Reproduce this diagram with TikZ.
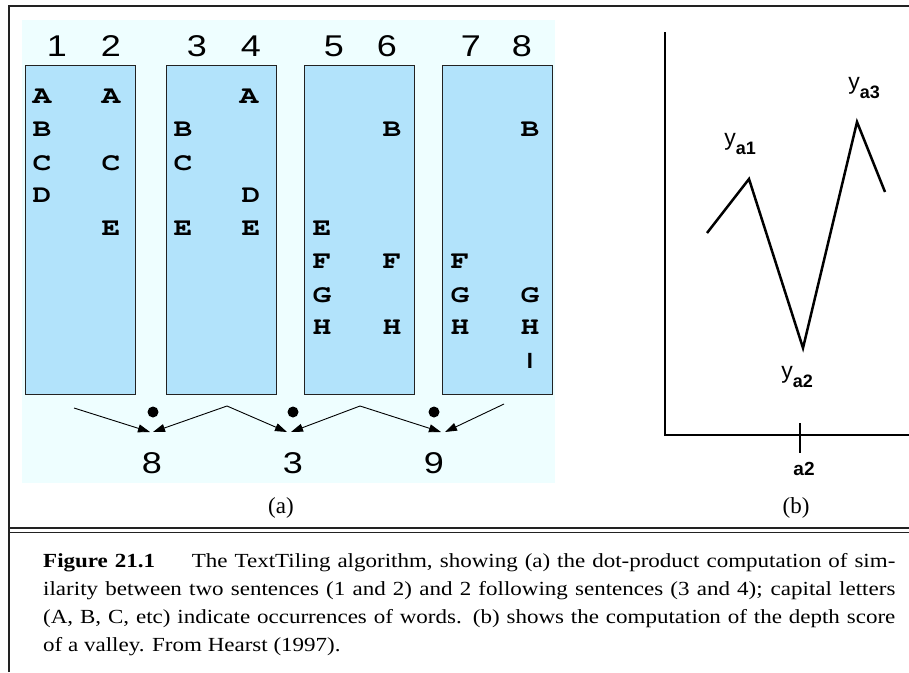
\documentclass[tikz,border=0pt]{standalone}
\usepackage[T1]{fontenc}
\usepackage{fontspec}
\usepackage{graphicx}
\setmainfont{Liberation Serif}
\newfontfamily\sansfnt{Liberation Sans}
\usetikzlibrary{arrows.meta}
\usetikzlibrary{positioning}
\definecolor{panelbg}{RGB}{238,254,255}
\definecolor{boxfill}{RGB}{178,227,251}
\definecolor{framecol}{RGB}{34,34,34}
\newcommand{\wrd}[1]{\scalebox{1.25}[1]{\fontencoding{T1}\fontfamily{pcr}\fontseries{b}\fontsize{25}{25}\selectfont #1}}
\newcommand{\dgt}[1]{\scalebox{1.2}[1]{\sansfnt\fontsize{30}{30}\selectfont #1}}
\tikzset{
  sent/.style = {draw = framecol, fill = boxfill, line width = 0.8},
  wordc/.style = {inner sep = 0, anchor = center},
  colnum/.style = {inner sep = 0},
  simarrow/.style = {line width = 0.9, -{Triangle[length=12pt,width=8pt]}},
  gapdot/.style = {fill, circle, inner sep = 0, minimum size = 11},
  axis/.style = {line width = 2.5},
  sublab/.style = {inner sep = 0, font = \sansfnt\fontsize{23}{23}\selectfont}
}
\begin{document}
\begin{tikzpicture}[x=1pt, y=-1pt]
            \useasboundingbox (0,0) rectangle (909,672);
            % frame
            \draw [framecol, line width=2] (9,672)--(9,6)--(909,6);
            \draw [framecol, line width=1.6] (9,528)--(909,528);
            \draw [framecol, line width=1.6] (9,532.5)--(909,532.5);
            % (a)
            \fill [panelbg] (22,20) rectangle (555,483);
            \draw [sent] (25,65) rectangle (135,394);
            \draw [sent] (166,65) rectangle (276,394);
            \draw [sent] (304,65) rectangle (414,394);
            \draw [sent] (442,65) rectangle (552,394);
            \node [colnum] (n1) at (57,46) {\dgt{1}};
            \node [colnum] (n2) at (111,46) {\dgt{2}};
            \node [colnum] (n3) at (197,46) {\dgt{3}};
            \node [colnum] (n4) at (251,46) {\dgt{4}};
            \node [colnum] (n5) at (334,46) {\dgt{5}};
            \node [colnum] (n6) at (387,46) {\dgt{6}};
            \node [colnum] (n7) at (471,46) {\dgt{7}};
            \node [colnum] (n8) at (522,46) {\dgt{8}};
            % words
            \node [wordc] (w1a) at (42,97) {\wrd{A}};
            \node [wordc] (w1b) at (42,130) {\wrd{B}};
            \node [wordc] (w1c) at (42,163) {\wrd{C}};
            \node [wordc] (w1d) at (42,196) {\wrd{D}};
            \node [wordc] (w2a) at (111,97) {\wrd{A}};
            \node [wordc] (w2c) at (111,163) {\wrd{C}};
            \node [wordc] (w2e) at (111,229) {\wrd{E}};
            \node [wordc] (w3b) at (183,130) {\wrd{B}};
            \node [wordc] (w3c) at (183,163) {\wrd{C}};
            \node [wordc] (w3e) at (183,229) {\wrd{E}};
            \node [wordc] (w4a) at (249,97) {\wrd{A}};
            \node [wordc] (w4d) at (251,196) {\wrd{D}};
            \node [wordc] (w4e) at (251,229) {\wrd{E}};
            \node [wordc] (w5e) at (322,229) {\wrd{E}};
            \node [wordc] (w5f) at (322,262) {\wrd{F}};
            \node [wordc] (w5g) at (322,295) {\wrd{G}};
            \node [wordc] (w5h) at (322,328) {\wrd{H}};
            \node [wordc] (w6b) at (392,130) {\wrd{B}};
            \node [wordc] (w6f) at (392,262) {\wrd{F}};
            \node [wordc] (w6h) at (392,328) {\wrd{H}};
            \node [wordc] (w7f) at (460,262) {\wrd{F}};
            \node [wordc] (w7g) at (460,295) {\wrd{G}};
            \node [wordc] (w7h) at (460,328) {\wrd{H}};
            \node [wordc] (w8b) at (530,130) {\wrd{B}};
            \node [wordc] (w8g) at (530,295) {\wrd{G}};
            \node [wordc] (w8h) at (530,328) {\wrd{H}};
            \node [wordc] (w8i) at (530,361) {\sansfnt\bfseries\fontsize{22}{22}\selectfont I};
            % similarity arrows
            \coordinate (s1) at (74,408);
            \coordinate (k1) at (227,406);
            \coordinate (k2) at (360,406);
            \coordinate (s2) at (504,404);
            \coordinate (t1l) at (150,432);
            \coordinate (t1r) at (153,432);
            \coordinate (t2l) at (287,432);
            \coordinate (t2r) at (291,432);
            \coordinate (t3l) at (441,432);
            \coordinate (t3r) at (445,432);
            \draw [simarrow] (s1)--(t1l);
            \draw [simarrow] (k1)--(t1r);
            \draw [simarrow] (k1)--(t2l);
            \draw [simarrow] (k2)--(t2r);
            \draw [simarrow] (k2)--(t3l);
            \draw [simarrow] (s2)--(t3r);
            \node [gapdot] (g1) at (153,412) {};
            \node [gapdot] (g2) at (293,412) {};
            \node [gapdot] (g3) at (434,412) {};
            \node [colnum] (sim1) at (152,463) {\dgt{8}};
            \node [colnum] (sim2) at (293,463) {\dgt{3}};
            \node [colnum] (sim3) at (434,463) {\dgt{9}};
            \node [font=\fontsize{23}{23}\selectfont] (la) at (281,508) {(a)};
            % (b)
            \draw [axis] (665,32)--(665,435)--(909,435);
            \draw [line width=1.5] (800,423)--(800,453);
            \node [inner sep=0, font=\sansfnt\bfseries\fontsize{19}{19}\selectfont] (xa2) at (804,469) {a2};
            \draw [line width=2.5, line join=miter] (707,233)--(749,179)--(803,348)--(857,122)--(885,192);
            \node [sublab] (ya1) at (740,144) {y\raisebox{-0.4em}{\bfseries\fontsize{18}{18}\selectfont a1}};
            \node [sublab] (ya3) at (864,88) {y\raisebox{-0.4em}{\bfseries\fontsize{18}{18}\selectfont a3}};
            \node [sublab] (ya2) at (797,377) {y\raisebox{-0.4em}{\bfseries\fontsize{18}{18}\selectfont a2}};
            \node [font=\fontsize{23}{23}\selectfont] (lb) at (796,508) {(b)};
            % caption
            \node [anchor=base west, inner sep=0] (cap) at (43,567)
              {\scalebox{1.15}[1]{\parbox[t]{741pt}{\fontsize{20}{28}\selectfont
               \textbf{Figure 21.1}\hspace*{1.6em}The TextTiling algorithm, showing (a) the dot-product computation of sim-\linebreak
               ilarity between two sentences (1 and 2) and 2 following sentences (3 and 4); capital letters\linebreak
               (A, B, C, etc) indicate occurrences of words. (b) shows the computation of the depth score\linebreak
               of a valley. From Hearst (1997).}}};
        \end{tikzpicture}
\end{document}
